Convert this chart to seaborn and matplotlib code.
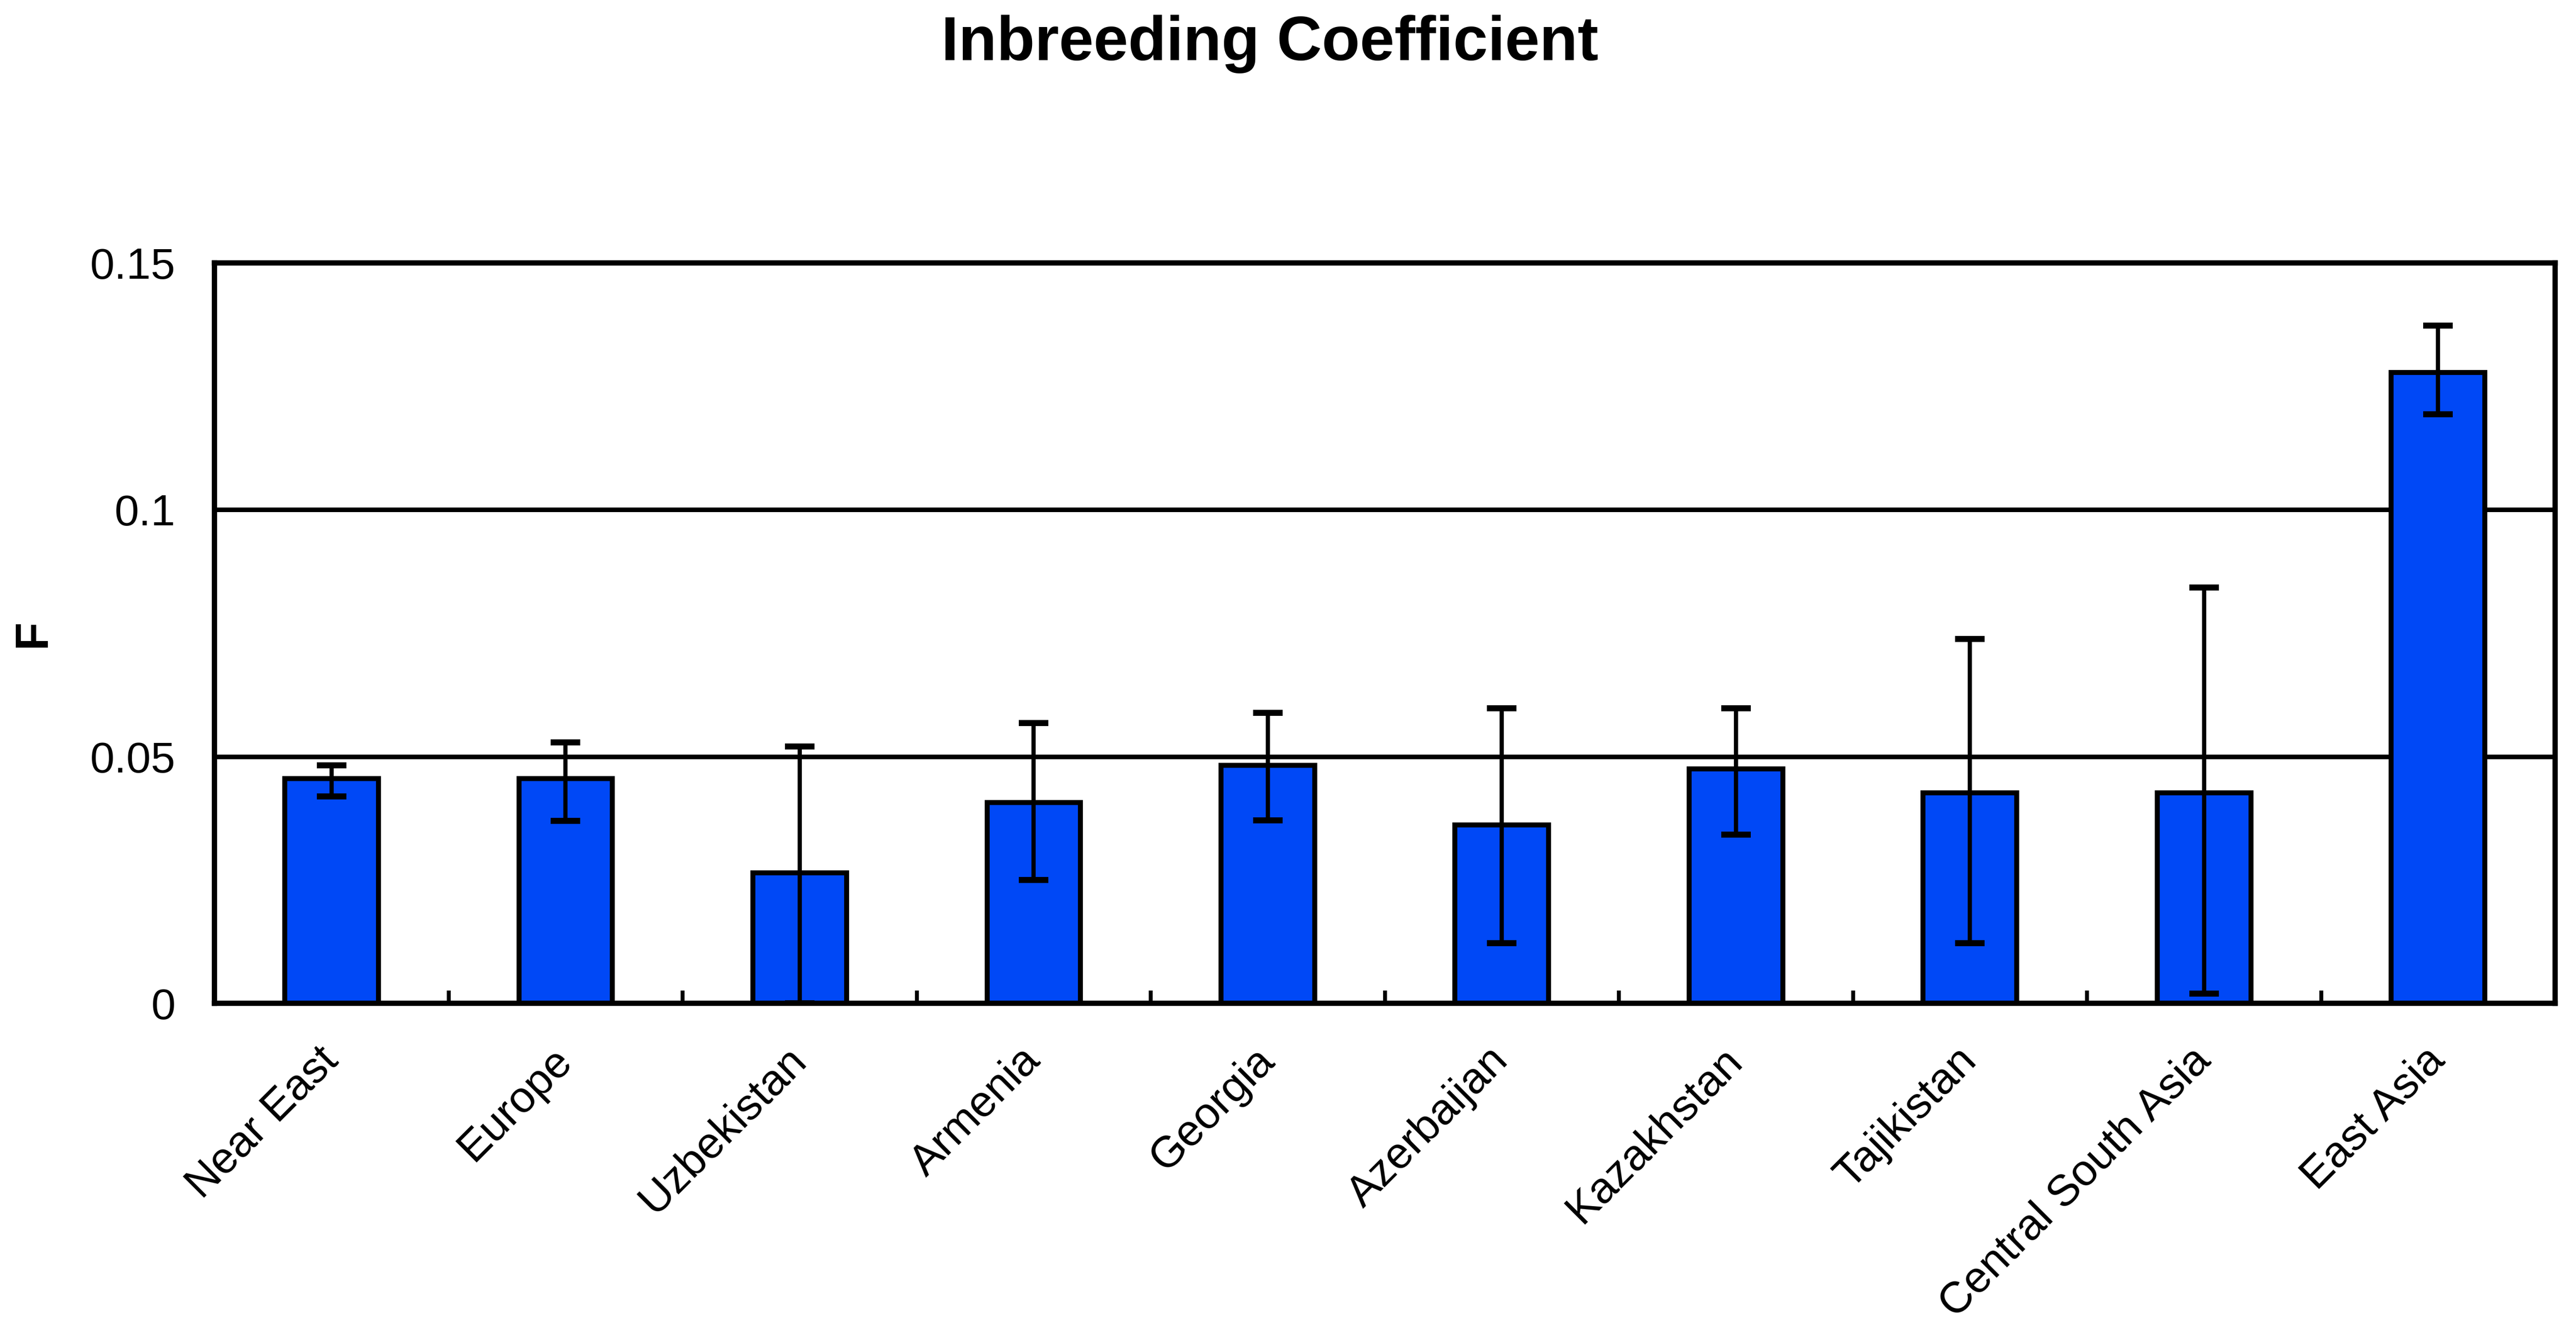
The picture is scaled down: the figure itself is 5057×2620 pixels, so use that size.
import numpy as np
import pandas as pd
import seaborn as sns
import matplotlib.pyplot as plt
from matplotlib.ticker import FixedLocator

## Data
regions = ["Near East", "Europe", "Uzbekistan", "Armenia", "Georgia",
           "Azerbaijan", "Kazakhstan", "Tajikistan", "Central South Asia", "East Asia"]
f_mean = [0.0455, 0.0455, 0.0264, 0.0407, 0.0482, 0.0361, 0.0475, 0.0426, 0.0426, 0.1278]
f_high = [0.0482, 0.0529, 0.0520, 0.0568, 0.0588, 0.0598, 0.0598, 0.0738, 0.0842, 0.1373]
f_low = [0.0419, 0.0370, 0.0000, 0.0250, 0.0371, 0.0122, 0.0342, 0.0122, 0.0020, 0.1194]
y_ticks = [0, 0.05, 0.1, 0.15]
y_tick_labels = ["0", "0.05", "0.1", "0.15"]

bar_blue = "#0048F6"

sns.set_style("white")
plt.rcParams['font.family'] = ['Liberation Sans', 'DejaVu Sans']
plt.rcParams['text.color'] = 'black'

df = pd.DataFrame({"region": regions, "F": f_mean})

fig = plt.figure(figsize=(50.57, 26.2), dpi=100)
ax = fig.add_axes([0.0833, 0.2485, 0.9086, 0.5545])

# horizontal grid lines behind bars
for y in y_ticks[1:3]:
    ax.axhline(y, color="black", lw=6.5, zorder=0)

sns.barplot(data=df, x="region", y="F", color=bar_blue, saturation=1,
            width=0.4, edgecolor="black", linewidth=7, ax=ax, zorder=2)

x = np.arange(len(regions))
mean = np.array(f_mean)
yerr = [mean - np.array(f_low), np.array(f_high) - mean]
ax.errorbar(x, mean, yerr=yerr, fmt="none", ecolor="black", elinewidth=6,
            capsize=21, capthick=8.5, zorder=3)

ax.set_xlim(-0.5, len(regions) - 0.5)
ax.set_ylim(0, 0.15)
ax.set_yticks(y_ticks)
ax.set_yticklabels(y_tick_labels)
ax.set_xticks(x)
ax.set_xticklabels(regions, rotation=45, ha="right", va="center", rotation_mode="anchor")
ax.set_xlabel("")
ax.set_ylabel("")

ax.tick_params(axis="y", length=0, pad=55, labelsize=62, colors="black")
ax.tick_params(axis="x", which="major", length=0, pad=72, labelsize=62, colors="black")
ax.xaxis.set_minor_locator(FixedLocator(np.arange(0.5, len(regions) - 1, 1)))
ax.tick_params(axis="x", which="minor", direction="in", length=18, width=5.5,
               bottom=True, color="black")

for s in ax.spines.values():
    s.set_visible(True)
    s.set_color("black")
    s.set_linewidth(7.5)

fig.text(0.493, 0.967, "Inbreeding Coefficient", ha="center", va="center",
         fontsize=88, fontweight="bold", color="black")
fig.text(0.013, 0.5258, "F", rotation=90, ha="center", va="center",
         fontsize=65, fontweight="bold", color="black")

fig.savefig("out.png", dpi=100, facecolor="white")
